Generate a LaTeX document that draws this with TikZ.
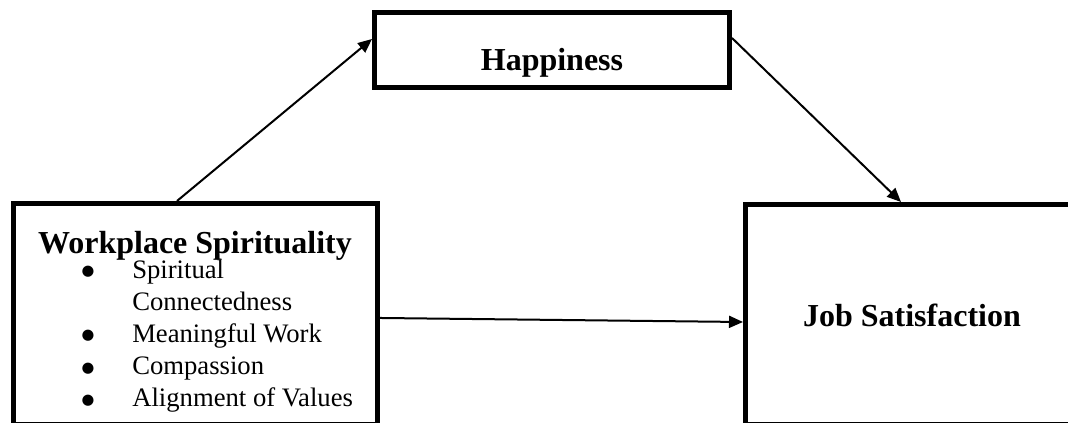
\documentclass[tikz,border=0pt]{standalone}
\usepackage{fontspec}
\setmainfont{Liberation Serif}
\newfontfamily\bulfont{DejaVu Sans}
\usetikzlibrary{arrows.meta}
\tikzset{
  box/.style={draw=black, line width=3.75pt, inner sep=0pt, fill=none},
  title/.style={inner sep=0pt, font=\fontsize{24}{28}\selectfont\bfseries},
  item/.style={inner sep=0pt, anchor=base west, font=\fontsize{20}{24}\selectfont},
  bul/.style={inner sep=0pt, anchor=center, font=\bulfont\fontsize{11}{12}\selectfont},
  conn/.style={draw=black, line width=1.5pt, -{Triangle[length=10.5pt, width=9pt]}}
}
\begin{document}
\begin{tikzpicture}[x=0.75pt, y=-0.75pt]
\useasboundingbox (0,0) rectangle (1068,423);
\clip (0,0) rectangle (1068,423);
% boxes
\node[box, minimum width=266.25pt, minimum height=56.25pt] (hap) at (552,50) {};
\node[box, minimum width=273pt, minimum height=166.125pt] (ws) at (195.5,314.25) {};
\node[box, minimum width=250.875pt, minimum height=165.375pt] (js) at (912.75,314.75) {};
% texts
\node[title, anchor=base] (haptxt) at (552,70.7) {Happiness};
\node[title, anchor=base] (wstxt) at (195,253.5) {Workplace Spirituality};
\node[title, anchor=base] (jstxt) at (912,327) {Job Satisfaction};
\node[bul] (b1) at (88,272) {●};
\node[item] (i1) at (132,279) {Spiritual};
\node[item] (i1b) at (132,311) {Connectedness};
\node[bul] (b2) at (88,336) {●};
\node[item] (i2) at (132,343) {Meaningful Work};
\node[bul] (b3) at (88,368.5) {●};
\node[item] (i3) at (132,375) {Compassion};
\node[bul] (b4) at (88,400.5) {●};
\node[item] (i4) at (132,407) {Alignment of Values};
% connectors
\draw[conn] ([xshift=-13.875pt]ws.north) -- ([yshift=8.25pt]hap.west);
\draw[conn] ([yshift=9pt]hap.east) -- ([xshift=-8.8pt]js.north);
\draw[conn] ([yshift=-2.8pt]ws.east) -- ([yshift=-5.44pt]js.west);
\end{tikzpicture}
\end{document}
